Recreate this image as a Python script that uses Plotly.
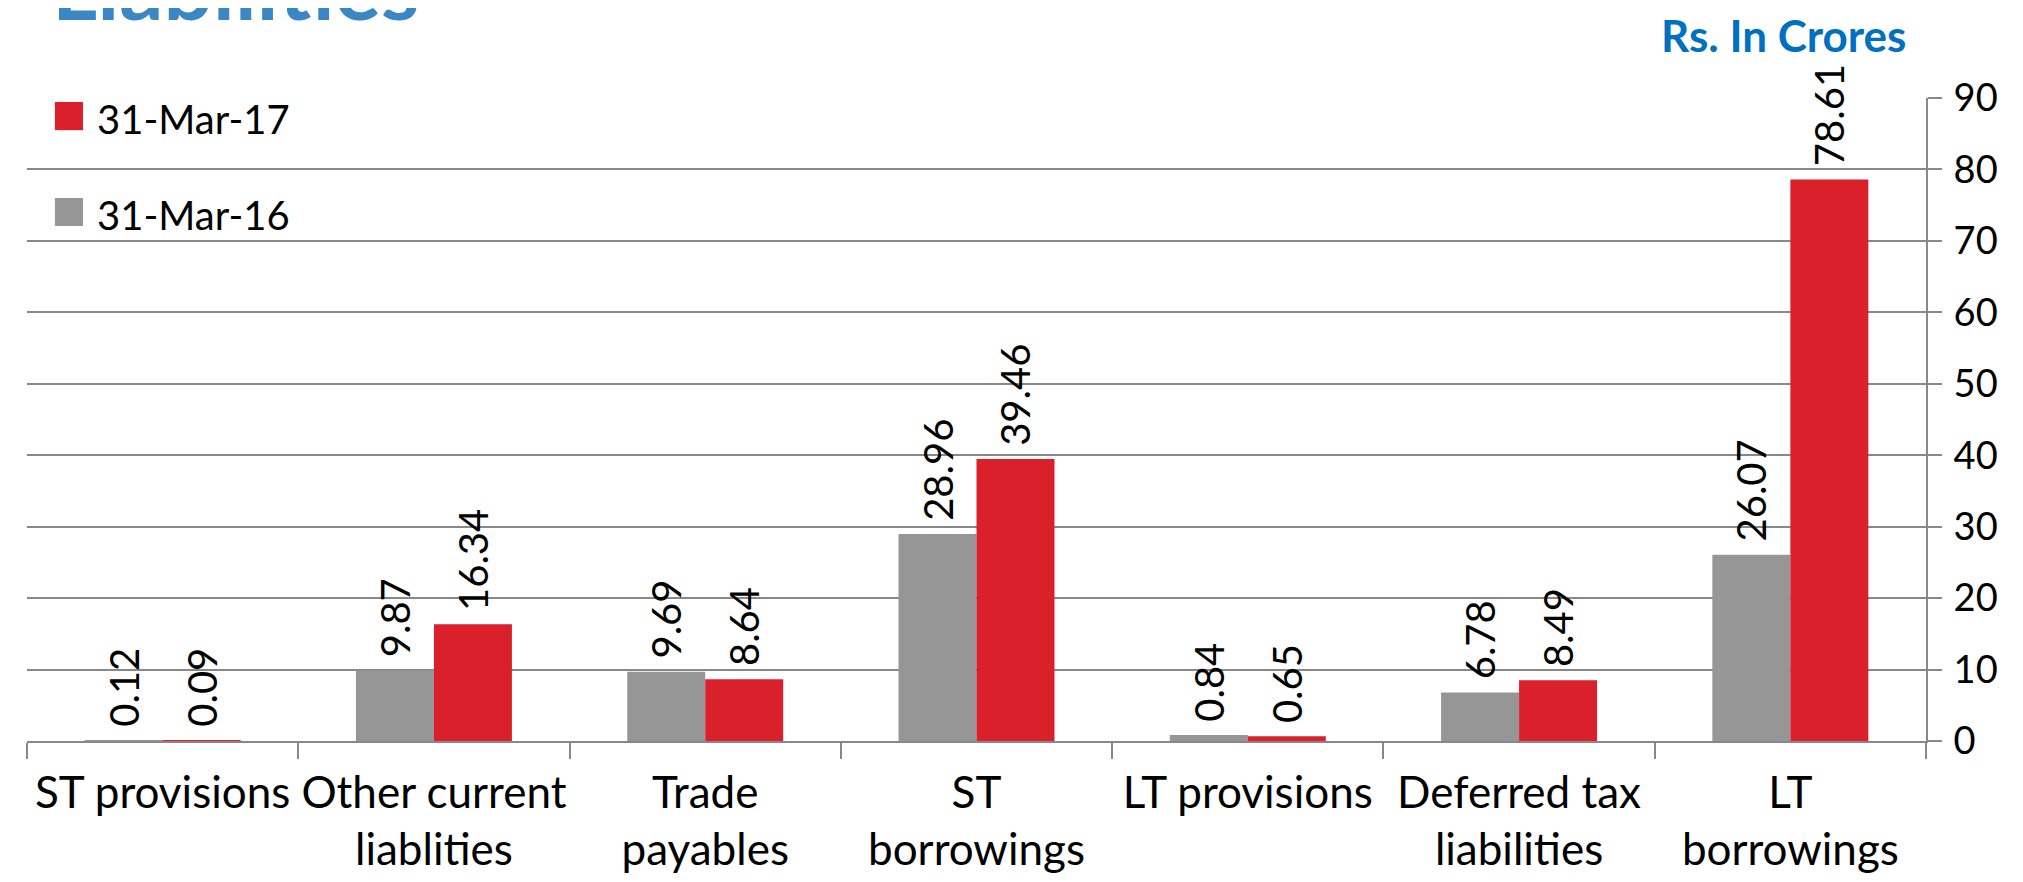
import plotly.graph_objects as go

categories = ["ST provisions", "Other current<br>liablities", "Trade<br>payables", "ST<br>borrowings",
              "LT provisions", "Deferred tax<br>liabilities", "LT<br>borrowings"]
series_names = ["31-Mar-16", "31-Mar-17"]
values_2016 = [0.12, 9.87, 9.69, 28.96, 0.84, 6.78, 26.07]
values_2017 = [0.09, 16.34, 8.64, 39.46, 0.65, 8.49, 78.61]
series_colors = ["#969696", "#d9202b"]
y_ticks = [0, 10, 20, 30, 40, 50, 60, 70, 80, 90]

FONT = "Lato"
W, H = 2023, 882
ML, MR, MT, MB = 19, 105, 90, 149

fig = go.Figure()
for name, vals, col in zip(series_names, [values_2016, values_2017], series_colors):
    fig.add_trace(go.Bar(
        x=categories, y=vals, name=name, marker=dict(color=col, line=dict(width=0)),
        text=["\u00a0" + f"{v:.2f}" for v in vals], textposition="outside", textangle=-90,
        textfont=dict(family=FONT, size=40, color="#000000"),
        cliponaxis=False, constraintext="none", showlegend=False,
    ))

fig.update_layout(
    width=W, height=H,
    margin=dict(l=ML, r=MR, t=MT, b=MB),
    paper_bgcolor="white", plot_bgcolor="white",
    barmode="group", bargap=0.425, bargroupgap=0,
    font=dict(family=FONT, color="#000000"),
    showlegend=False,
)
fig.update_xaxes(
    type="category", tickson="boundaries", ticks="outside", ticklen=16, tickwidth=2,
    tickcolor="#888888", showline=True, linecolor="#888888", linewidth=2,
    tickfont=dict(family=FONT, size=44, color="#000000"), showgrid=False,
    ticklabelstandoff=12, tickangle=0, automargin=False,
)
fig.update_yaxes(
    side="right", range=[0, 90], tickvals=y_ticks, ticks="outside", ticklen=14, tickwidth=2,
    tickcolor="#888888", showline=True, linecolor="#888888", linewidth=2,
    showgrid=True, gridcolor="#888888", gridwidth=2, zeroline=False,
    tickfont=dict(family=FONT, size=38, color="#000000"), ticklabelstandoff=4,
    automargin=False,
)

# legend drawn manually (large square swatches)
legend_rows = [(series_names[1], series_colors[1], 0.950, 0.9938, 0.967),
               (series_names[0], series_colors[0], 0.801, 0.8445, 0.818)]
for name, col, y0, y1, ty in legend_rows:
    fig.add_shape(type="rect", xref="paper", yref="paper", x0=0.0147, x1=0.0295, y0=y0, y1=y1,
                  fillcolor=col, line=dict(width=0))
    fig.add_annotation(text=name, xref="paper", yref="paper", x=0.0358, y=ty,
                       xanchor="left", yanchor="middle", showarrow=False,
                       font=dict(family=FONT, size=40, color="#000000"))

fig.add_annotation(text="<b>Liabilities</b>", xref="paper", yref="paper", x=0.012, y=1.088,
                   xanchor="left", yanchor="bottom", showarrow=False,
                   font=dict(family=FONT, size=87, color="#3a87c4"))
fig.add_annotation(text="<b>Rs. In Crores</b>", xref="paper", yref="paper", x=0.9905, y=1.098,
                   xanchor="right", yanchor="middle", showarrow=False,
                   font=dict(family=FONT, size=44, color="#0070c0"))

fig.write_html("out.html")
